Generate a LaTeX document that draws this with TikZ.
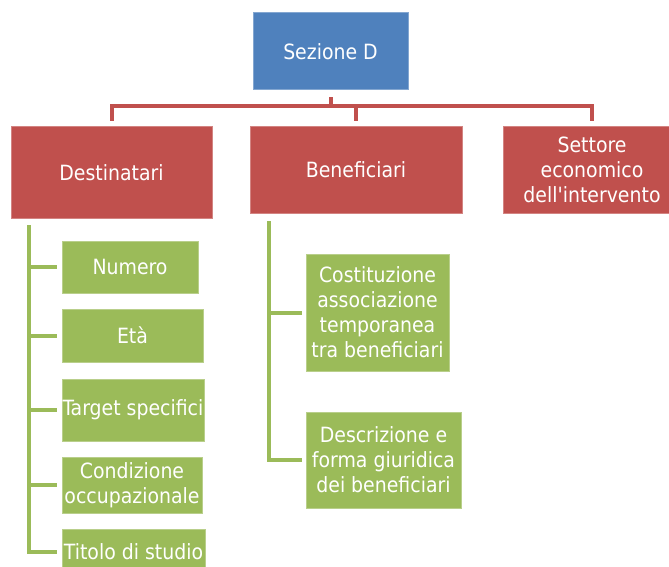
\documentclass[tikz,border=0pt]{standalone}
\usepackage{fontspec}
\setmainfont{DejaVu Sans Condensed}
\usepackage{xcolor}
\usetikzlibrary{positioning, calc}
\definecolor{sezblue}{HTML}{4F81BD}
\definecolor{sezred}{HTML}{C0504D}
\definecolor{sezgreen}{HTML}{9BBB59}
\tikzset{
  box/.style={text=white, align=center, inner sep=0pt, line width=1pt,
    font=\fontsize{21}{25}\selectfont},
  topbox/.style={box, fill=sezblue, draw=sezblue!70!white},
  redbox/.style={box, fill=sezred, draw=sezred!70!white},
  greenbox/.style={box, fill=sezgreen, draw=sezgreen!70!white},
  redline/.style={draw=sezred, line width=4pt},
  greenline/.style={draw=sezgreen, line width=4pt}
}
\begin{document}
\begin{tikzpicture}[x=1pt, y=-1pt]
  \useasboundingbox (0,0) rectangle (669,567);
  \node[topbox, minimum width=155, minimum height=77] (sez) at (330.5,51.5) {Sezione D};
  \node[redbox, minimum width=201, minimum height=91] (dest) at (111.5,172.5) {Destinatari};
  \node[redbox, minimum width=212, minimum height=86] (benef) at (356,170) {Beneficiari};
  \node[redbox, minimum width=178, minimum height=86] (settore) at (592,170)
    {Settore\\economico\\dell\textquotesingle intervento};

  \node[greenbox, minimum width=136, minimum height=52] (numero) at (130,267) {Numero};
  \node[greenbox, minimum width=141, minimum height=53] (eta) at (132.5,335.5) {Età};
  \node[greenbox, minimum width=142, minimum height=62] (target) at (133,410) {Target specifici};
  \node[greenbox, minimum width=140, minimum height=56] (condiz) at (132,485)
    {Condizione\\occupazionale};
  \node[greenbox, minimum width=143, minimum height=46] (titolo) at (133.5,552) {Titolo di studio};

  \node[greenbox, minimum width=143, minimum height=117] (costit) at (377.5,312.5)
    {Costituzione\\associazione\\temporanea\\tra beneficiari};
  \node[greenbox, minimum width=155, minimum height=96] (descr) at (383.5,460)
    {Descrizione e\\forma giuridica\\dei beneficiari};

  \coordinate (hub) at (331,106);
  \draw[redline] ([yshift=-7pt]hub |- sez.south) -- ([yshift=-2pt]hub);
  \foreach \n in {dest, benef, settore}
    \draw[redline] (hub) -| ([yshift=5pt]\n.north);

  \coordinate (dtop) at (29,225);
  \draw[greenline] (dtop) |- ([xshift=-5pt]titolo.west);
  \foreach \n in {numero, eta, target, condiz}
    \draw[greenline] (dtop |- \n.west) -- ([xshift=-5pt]\n.west);

  \coordinate (btop) at (269,221);
  \draw[greenline] (btop) |- ([xshift=-4pt]descr.west);
  \draw[greenline] (btop |- costit.west) -- ([xshift=-4pt]costit.west);
\end{tikzpicture}
\end{document}
